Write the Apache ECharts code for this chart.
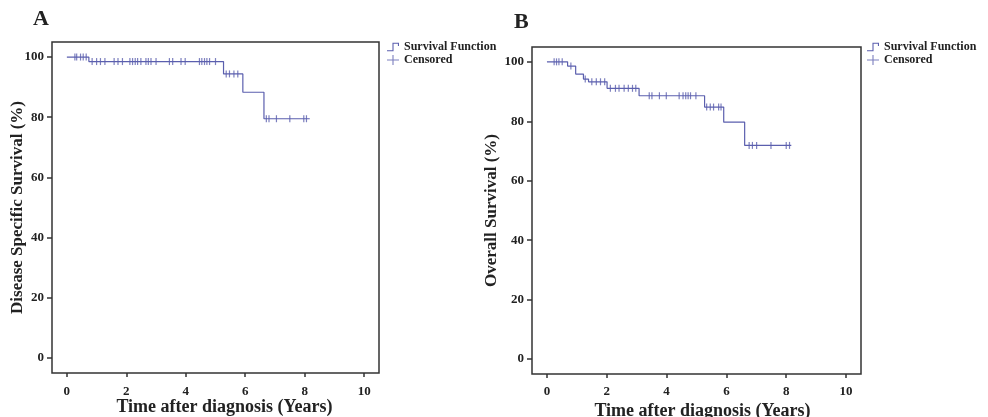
<!DOCTYPE html>
<html><head><meta charset="utf-8">
<script src="https://cdn.jsdelivr.net/npm/echarts@6/dist/echarts.min.js"></script>
<style>html,body{margin:0;padding:0;background:#fff}#c{width:988px;height:417px}</style>
</head><body><div id="c"></div>
<script>
// Panel A: Disease specific survival (event times and survival levels)
const timesA = [0, 0.74, 5.27, 5.92, 6.63, 8.17];
const survA  = [100, 98.5, 94.4, 88.3, 79.5, 79.5];
const censorA = [0.27, 0.33, 0.46, 0.55, 0.65, 0.85, 1.0, 1.13, 1.28, 1.59, 1.72, 1.87, 2.12, 2.21, 2.30, 2.38, 2.49, 2.66, 2.74, 2.83, 3.0, 3.45, 3.56, 3.84, 3.98, 4.46, 4.54, 4.63, 4.71, 4.80, 5.0, 5.36, 5.47, 5.62, 5.75, 6.71, 6.80, 7.05, 7.5, 7.97, 8.06];
// Panel B: Overall survival
const timesB = [0, 0.69, 0.96, 1.22, 1.39, 2.01, 3.08, 5.27, 5.91, 6.61, 8.17];
const survB  = [100, 98.6, 95.9, 94.2, 93.3, 91.1, 88.6, 84.8, 79.7, 71.9, 71.9];
const censorB = [0.24, 0.32, 0.40, 0.51, 0.80, 1.28, 1.50, 1.65, 1.79, 1.93, 2.12, 2.29, 2.41, 2.58, 2.72, 2.86, 2.97, 3.42, 3.51, 3.76, 3.99, 4.42, 4.55, 4.64, 4.72, 4.80, 4.98, 5.34, 5.46, 5.57, 5.74, 5.82, 6.76, 6.87, 7.01, 7.49, 8.0, 8.11];
const xTicks = [0, 2, 4, 6, 8, 10];
const yTicks = [0, 20, 40, 60, 80, 100];
const yTitleA = 'Disease Specific Survival (%)';
const yTitleB = 'Overall Survival (%)';
const xTitle = 'Time after diagnosis (Years)';

function levelAt(times, surv, t) {
  let v = surv[0];
  for (let i = 0; i < times.length; i++) { if (times[i] <= t) v = surv[i]; }
  return v;
}
const curveA = timesA.map((t, i) => [t, survA[i]]);
const curveB = timesB.map((t, i) => [t, survB[i]]);
const censA = censorA.map(t => [t, levelAt(timesA, survA, t)]);
const censB = censorB.map(t => [t, levelAt(timesB, survB, t)]);

const FONT = '"Liberation Serif", "DejaVu Serif", serif';
const COL = '#5b5fae';
const stepIcon = 'path://M0,9 L5,9 L5,2 L11,2 L11,5 L10,5 L10,3 L6,3 L6,10 L0,10 Z';
const plusIcon = 'path://M0,4 L5,4 L5,0 L6,0 L6,4 L11,4 L11,5 L6,5 L6,9 L5,9 L5,5 L0,5 Z';

function xAx(idx, gap, shift, margin) {
  return {
    type: 'value', gridIndex: idx, min: -0.5, max: 10.5,
    splitLine: { show: false }, axisLine: { show: false, onZero: false },
    axisTick: { show: true, length: 4, customValues: xTicks, lineStyle: { color: '#333', width: 1.5 } },
    axisLabel: { customValues: xTicks, margin: margin, fontFamily: FONT, fontWeight: 'bold', fontSize: 13, color: '#222' },
    name: xTitle, nameLocation: 'middle', nameGap: gap, nameMoveOverlap: false,
    nameTextStyle: { fontFamily: FONT, fontWeight: 'bold', fontSize: 18, color: '#222', padding: [0, 0, 0, shift] }
  };
}
function yAx(idx, title, gap) {
  return {
    type: 'value', gridIndex: idx, min: -5, max: 105,
    splitLine: { show: false }, axisLine: { show: false, onZero: false },
    axisTick: { show: true, length: 5, customValues: yTicks, lineStyle: { color: '#333', width: 1.5 } },
    axisLabel: { customValues: yTicks, margin: 8, fontFamily: FONT, fontWeight: 'bold', fontSize: 13, color: '#222' },
    name: title, nameLocation: 'middle', nameGap: gap, nameMoveOverlap: false,
    nameTextStyle: { fontFamily: FONT, fontWeight: 'bold', fontSize: 17, color: '#222' }
  };
}
function legend(left, top) {
  return {
    left: left, top: top, orient: 'vertical', itemGap: 1, itemWidth: 12, itemHeight: 10,
    textStyle: { fontFamily: FONT, fontWeight: 'bold', fontSize: 12, color: '#222' },
    data: [{ name: 'Survival Function', icon: stepIcon }, { name: 'Censored', icon: plusIcon }]
  };
}
const chart = echarts.init(document.getElementById('c'), null, { renderer: 'canvas' });
chart.setOption({
  animation: false,
  title: [
    { text: 'A', left: 28, top: 3, textStyle: { fontFamily: FONT, fontWeight: 'bold', fontSize: 22, color: '#222' } },
    { text: 'B', left: 509, top: 6, textStyle: { fontFamily: FONT, fontWeight: 'bold', fontSize: 22, color: '#222' } }
  ],
  legend: [legend(382, 36), legend(862, 36)],
  grid: [
    { left: 52, top: 42, width: 327, height: 331, outerBoundsMode: 'none', containLabel: false, show: true, borderColor: '#333', borderWidth: 1.5, backgroundColor: '#fff' },
    { left: 532, top: 47, width: 329, height: 327, outerBoundsMode: 'none', containLabel: false, show: true, borderColor: '#333', borderWidth: 1.5, backgroundColor: '#fff' }
  ],
  xAxis: [xAx(0, 25, 18, 12), xAx(1, 28, 12, 11)],
  yAxis: [yAx(0, yTitleA, 26), yAx(1, yTitleB, 32)],
  series: [
    { name: 'Survival Function', type: 'line', step: 'end', xAxisIndex: 0, yAxisIndex: 0, data: curveA, showSymbol: false, lineStyle: { color: COL, width: 1.2 }, itemStyle: { color: COL } },
    { name: 'Censored', type: 'scatter', xAxisIndex: 0, yAxisIndex: 0, data: censA, symbol: 'rect', symbolSize: [1.2, 7], itemStyle: { color: COL } },
    { name: 'Survival Function', type: 'line', step: 'end', xAxisIndex: 1, yAxisIndex: 1, data: curveB, showSymbol: false, lineStyle: { color: COL, width: 1.2 }, itemStyle: { color: COL } },
    { name: 'Censored', type: 'scatter', xAxisIndex: 1, yAxisIndex: 1, data: censB, symbol: 'rect', symbolSize: [1.2, 7], itemStyle: { color: COL } }
  ]
});
</script></body></html>
